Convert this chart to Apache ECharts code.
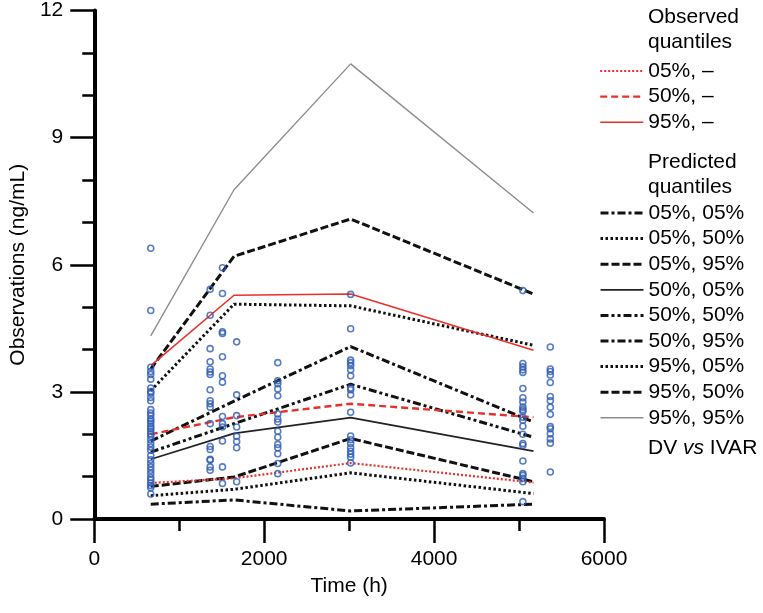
<!DOCTYPE html>
<html>
<head>
<meta charset="utf-8">
<title>VPC</title>
<script src="https://cdn.jsdelivr.net/npm/echarts@6/dist/echarts.min.js"></script>
<style>
    html, body { margin: 0; padding: 0; background: #fff; }
    #chart { width: 763px; height: 613px; }
</style>
</head>
<body>
<div id="chart"></div>
<script>
// 分位数曲线的时间点 (h)
let lineTimes = [665, 1645, 3018, 5170];

// 观测分位数
let obs05 = [0.85, 0.96, 1.32, 0.86];
let obs50 = [2.00, 2.40, 2.72, 2.40];
let obs95 = [3.62, 5.28, 5.31, 3.98];

// 预测分位数
let pred05_05 = [0.35, 0.45, 0.19, 0.35];
let pred05_50 = [0.55, 0.70, 1.09, 0.60];
let pred05_95 = [0.77, 0.99, 1.90, 0.88];
let pred50_05 = [1.41, 2.02, 2.39, 1.60];
let pred50_50 = [1.58, 2.25, 3.18, 1.93];
let pred50_95 = [1.84, 2.78, 4.07, 2.29];
let pred95_05 = [3.03, 5.07, 5.03, 4.10];
let pred95_50 = [3.54, 6.20, 7.08, 5.31];
let pred95_95 = [4.32, 7.77, 10.74, 7.22];

// 观测值 (DV vs IVAR)，按采样时间分列
let dvTimes = [665, 1364, 1509, 1676, 2160, 3018, 5045, 5368];
let dv665 = [6.39, 4.92, 3.58, 3.48, 3.41, 3.30, 3.09, 3.01, 2.97, 2.87, 2.79, 2.58, 2.50, 2.44, 2.36, 2.31,
    2.25, 2.18, 2.13, 2.07, 2.01, 1.95, 1.87, 1.78, 1.70, 1.62, 1.50, 1.40, 1.31, 1.23, 1.15, 1.07,
    0.98, 0.92, 0.85, 0.79, 0.74, 0.59];
let dv1364 = [5.42, 4.81, 4.02, 3.71, 3.54, 3.47, 3.41, 3.05, 2.79, 2.72, 2.64, 2.25, 1.71, 1.64, 1.41, 1.39, 1.23, 1.15];
let dv1509 = [5.93, 5.32, 4.42, 4.38, 3.83, 3.38, 3.23, 2.42, 2.25, 2.17, 1.84, 1.23, 0.84];
let dv1676 = [4.18, 2.93, 2.44, 2.17, 1.95, 1.83, 1.68, 0.88];
let dv2160 = [3.69, 3.26, 3.19, 3.07, 2.91, 2.48, 2.36, 2.29, 2.07, 1.93, 1.76, 1.68, 1.54, 1.31, 1.07];
let dv3018 = [5.30, 4.49, 3.75, 3.69, 3.62, 3.52, 3.38, 3.09, 3.05, 2.93, 2.52, 1.96, 1.87, 1.78, 1.68, 1.60, 1.53, 1.46, 1.32];
let dv5045 = [5.39, 3.67, 3.59, 3.52, 3.46, 3.08, 2.86, 2.76, 2.64, 2.58, 2.54, 2.40, 2.33, 2.19, 2.00,
    1.78, 1.74, 1.37, 1.07, 1.03, 0.96, 0.88, 0.41];
let dv5368 = [4.06, 3.54, 3.48, 3.40, 3.22, 2.89, 2.79, 2.64, 2.47, 2.18, 2.13, 2.01, 1.89, 1.79, 1.11];

// 坐标轴
let xTicks = [0, 2000, 4000, 6000];
let yTicks = [0, 3, 6, 9, 12];

let fontFamily = '"Liberation Sans", Arial, sans-serif';

/**
 * 生成曲线数据
 */
function toPairs(values) {
    let list = [];
    for (let i = 0; i < values.length; i++) {
        list.push([lineTimes[i], values[i]]);
    }
    return list;
}

/**
 * 生成散点数据
 */
function dvPairs() {
    let columns = [dv665, dv1364, dv1509, dv1676, dv2160, dv3018, dv5045, dv5368];
    let list = [];
    for (let i = 0; i < columns.length; i++) {
        for (let j = 0; j < columns[i].length; j++) {
            list.push([dvTimes[i], columns[i][j]]);
        }
    }
    return list;
}

/**
 * 折线系列
 */
function lineSeries(name, values, color, width, type) {
    return {
        name: name,
        type: 'line',
        data: toPairs(values),
        symbol: 'none',
        silent: true,
        z: 2,
        lineStyle: {
            color: color,
            width: width,
            type: type,
            cap: 'butt'
        },
        itemStyle: { color: color }
    };
}

let dashDot = [8, 3, 3, 3];
let dashDotDot = [8, 3, 3, 3, 3, 3];
let dotted = [2.5, 2.5];
let dashed = [8, 3];
let red = '#e8302a';
let black = '#111';
let gray = '#8c8c8c';

let obsNames = ['05%, –', '50%, –', '95%, –'];
let predNames = ['05%, 05%', '05%, 50%', '05%, 95%', '50%, 05%', '50%, 50%', '50%, 95%', '95%, 05%', '95%, 50%', '95%, 95%'];

let series = [
    lineSeries(predNames[0], pred05_05, black, 3, dashDot),
    lineSeries(predNames[1], pred05_50, black, 3, dotted),
    lineSeries(predNames[2], pred05_95, black, 3, dashed),
    lineSeries(predNames[3], pred50_05, '#222', 1.8, 'solid'),
    lineSeries(predNames[4], pred50_50, black, 3, dashDotDot),
    lineSeries(predNames[5], pred50_95, black, 3, dashDot),
    lineSeries(predNames[6], pred95_05, black, 3, dotted),
    lineSeries(predNames[7], pred95_50, black, 3, dashed),
    lineSeries(predNames[8], pred95_95, gray, 1.4, 'solid'),
    lineSeries(obsNames[0], obs05, red, 2.2, [2, 2]),
    lineSeries(obsNames[1], obs50, red, 2.4, [7, 4]),
    lineSeries(obsNames[2], obs95, red, 1.6, 'solid'),
    {
        name: 'DV vs IVAR',
        type: 'scatter',
        data: dvPairs(),
        symbol: 'circle',
        symbolSize: 6,
        z: 3,
        itemStyle: {
            color: 'rgba(255,255,255,0)',
            borderColor: '#2f5db3',
            borderWidth: 1.6
        }
    }
];

/**
 * 图例项：线宽与系列一致
 */
function legendItems(names) {
    let list = [];
    for (let i = 0; i < names.length; i++) {
        let s = series.find(function (item) { return item.name === names[i]; });
        list.push({
            name: names[i],
            lineStyle: { width: s.lineStyle.width, type: s.lineStyle.type, color: s.lineStyle.color }
        });
    }
    return list;
}

let legendText = {
    fontSize: 21,
    fontFamily: fontFamily,
    color: '#000',
    lineHeight: 22
};

// 图例只显示线型，不显示标记点
let legendBase = {
    orient: 'vertical',
    left: 594,
    itemWidth: 43,
    itemHeight: 10,
    itemGap: 3.6,
    selectedMode: false,
    itemStyle: { opacity: 0 },
    textStyle: legendText
};

let option = {
    animation: false,
    backgroundColor: '#fff',
    grid: {
        left: 91,
        right: 159,
        top: 8,
        bottom: 94
    },
    legend: [
        Object.assign({}, legendBase, { top: 55, data: legendItems(obsNames) }),
        Object.assign({}, legendBase, { top: 197, data: legendItems(predNames) })
    ],
    graphic: [
        {
            type: 'text',
            left: 648,
            top: 5,
            style: {
                text: 'Observed\nquantiles',
                font: '21px ' + fontFamily,
                lineHeight: 25,
                fill: '#000'
            }
        },
        {
            type: 'text',
            left: 648,
            top: 150,
            style: {
                text: 'Predicted\nquantiles',
                font: '21px ' + fontFamily,
                lineHeight: 25,
                fill: '#000'
            }
        },
        {
            type: 'text',
            left: 648,
            top: 438,
            style: {
                text: '{n|DV }{i|vs}{n| IVAR}',
                rich: {
                    n: { fontSize: 21, fontFamily: fontFamily, fill: '#000' },
                    i: { fontSize: 21, fontFamily: fontFamily, fontStyle: 'italic', fill: '#000' }
                }
            }
        }
    ],
    xAxis: {
        type: 'value',
        min: xTicks[0],
        max: xTicks[xTicks.length - 1],
        interval: xTicks[1] - xTicks[0],
        name: 'Time (h)',
        nameLocation: 'middle',
        nameGap: 57,
        nameTextStyle: { fontSize: 21, fontFamily: fontFamily, color: '#000' },
        axisLine: { onZero: false, lineStyle: { color: '#000', width: 4 } },
        axisTick: { length: 24, lineStyle: { color: '#000', width: 2.5 } },
        minorTick: { show: true, splitNumber: 2, length: 12, lineStyle: { color: '#000', width: 2.5 } },
        axisLabel: {
            margin: 30,
            fontSize: 21,
            fontFamily: fontFamily,
            color: '#000',
            formatter: function (value) {
                return String(value);
            }
        },
        splitLine: { show: false }
    },
    yAxis: {
        type: 'value',
        min: yTicks[0],
        max: yTicks[yTicks.length - 1],
        interval: yTicks[1] - yTicks[0],
        name: 'Observations (ng/mL)',
        nameLocation: 'middle',
        nameGap: 58,
        nameTextStyle: { fontSize: 21, fontFamily: fontFamily, color: '#000' },
        axisLine: { show: true, onZero: false, lineStyle: { color: '#000', width: 4 } },
        axisTick: { show: true, length: 24, lineStyle: { color: '#000', width: 2.5 } },
        minorTick: { show: true, splitNumber: 3, length: 12, lineStyle: { color: '#000', width: 2.5 } },
        axisLabel: { margin: 31, fontSize: 21, fontFamily: fontFamily, color: '#000' },
        splitLine: { show: false }
    },
    series: series
};

let myChart = echarts.init(document.getElementById('chart'), null, { renderer: 'canvas' });
myChart.setOption(option);
</script>
</body>
</html>
